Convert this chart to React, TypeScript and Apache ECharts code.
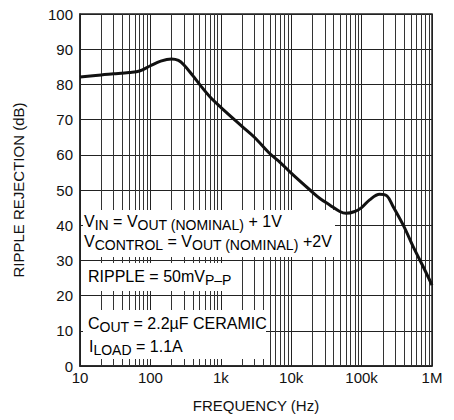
import React, { useEffect, useRef } from "react";
import * as echarts from "echarts";

const FONT = "'Liberation Sans', Arial, sans-serif";

// Ripple rejection curve: [frequency Hz, dB]
const freqHz = [10, 20, 30, 50, 70, 100, 140, 200, 250, 300, 400, 500, 700, 1000, 2000, 3000, 5000, 7000, 10000, 18500, 25600, 35600, 49000, 60000, 80000, 100000, 130000, 180000, 230000, 280000, 400000, 540000, 750000, 1000000];
const rejectionDb = [82.1, 82.7, 83.0, 83.4, 83.8, 85.3, 86.6, 87.2, 86.8, 85.5, 82.5, 80.0, 76.5, 73.5, 68.1, 65.0, 60.3, 57.8, 54.8, 50.0, 47.6, 45.7, 43.9, 43.4, 43.9, 45.0, 47.2, 48.8, 48.3, 45.3, 39.6, 33.9, 28.2, 23.0];

const xTickValues = [10, 100, 1000, 10000, 100000, 1000000];
const xTickLabels = ["10", "100", "1k", "10k", "100k", "1M"];
const minorMultipliers = [2, 3, 4, 5, 6, 7, 8, 9];

const yMin = 0;
const yMax = 100;
const yInterval = 10;

export default function App() {
  const ref = useRef<HTMLDivElement>(null);
  useEffect(() => {
    if (!ref.current) return;
    const chart = echarts.init(ref.current, undefined, { renderer: "svg" });
    const minorLines: { xAxis: number }[] = [];
    for (let d = 0; d < xTickValues.length - 1; d++) {
      for (const m of minorMultipliers) minorLines.push({ xAxis: xTickValues[d] * m });
    }
    const data = freqHz.map((f, i) => [f, rejectionDb[i]]);
    const main = { fontSize: 16, fontFamily: FONT, color: "#111" };
    const sub = { fontSize: 14, fontFamily: FONT, color: "#111", padding: [8, 0, 0, 0] };
    const rich = { n: main, s: sub };
    const txt = (x: number, y: number, text: string) => ({
      type: "text",
      x,
      y,
      z: 20,
      style: { text, rich, verticalAlign: "middle", align: "left" },
    });
    const box = (x: number, y: number, w: number, h: number) => ({
      type: "rect",
      z: 10,
      shape: { x, y, width: w, height: h },
      style: { fill: "#fff" },
    });
    chart.setOption({
      animation: false,
      grid: { left: 80, right: 22, top: 14, bottom: 54, show: true, borderColor: "#222", borderWidth: 1.5 },
      xAxis: {
        type: "log",
        logBase: 10,
        min: 10,
        max: 1000000,
        name: "FREQUENCY (Hz)",
        nameLocation: "middle",
        nameGap: 32,
        nameTextStyle: { fontSize: 15, fontFamily: FONT, color: "#111" },
        axisLine: { show: true, lineStyle: { color: "#222", width: 1.5 } },
        axisTick: { show: false },
        axisLabel: {
          fontSize: 15,
          fontFamily: FONT,
          color: "#111",
          margin: 4,
          formatter: (v: number) => {
            const i = xTickValues.findIndex((t) => Math.abs(Math.log10(t) - Math.log10(v)) < 1e-6);
            return i >= 0 ? xTickLabels[i] : "";
          },
        },
        splitLine: { show: true, lineStyle: { color: "#222", width: 1 } },
      },
      yAxis: {
        type: "value",
        min: yMin,
        max: yMax,
        interval: yInterval,
        name: "RIPPLE REJECTION (dB)",
        nameLocation: "middle",
        nameGap: 54,
        nameTextStyle: { fontSize: 15, fontFamily: FONT, color: "#111" },
        axisLine: { show: true, lineStyle: { color: "#222", width: 1.5 } },
        axisTick: { show: false },
        axisLabel: { fontSize: 15, fontFamily: FONT, color: "#111", margin: 7 },
        splitLine: { show: true, lineStyle: { color: "#222", width: 1 } },
      },
      series: [
        {
          type: "line",
          z: 1,
          data: [],
          markLine: {
            silent: true,
            symbol: ["none", "none"],
            label: { show: false },
            lineStyle: { color: "#333", width: 1, type: "solid" },
            data: minorLines,
          },
        },
        {
          type: "line",
          z: 30,
          data,
          smooth: 0.35,
          showSymbol: false,
          lineStyle: { color: "#111", width: 3 },
        },
      ],
      graphic: [
        box(83, 210, 252, 47),
        box(83, 263, 157, 28),
        box(83, 310, 183, 49),
        txt(84, 221, "{n|V}{s|IN}{n| = V}{s|OUT (NOMINAL)}{n| + 1V}"),
        txt(84, 241, "{n|V}{s|CONTROL}{n| = V}{s|OUT (NOMINAL)}{n| +2V}"),
        txt(88, 276, "{n|RIPPLE = 50mV}{s|P–P}"),
        txt(88, 323, "{n|C}{s|OUT}{n| = 2.2µF CERAMIC}"),
        txt(89, 346, "{n|I}{s|LOAD}{n| = 1.1A}"),
      ],
    });
    return () => chart.dispose();
  }, []);
  return <div ref={ref} style={{ width: 454, height: 420, position: "absolute", left: 0, top: 0 }} />;
}
